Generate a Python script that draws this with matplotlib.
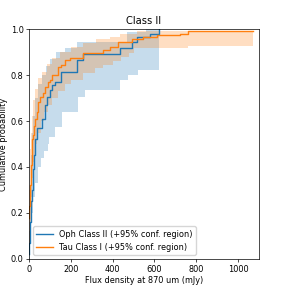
import numpy as np
import matplotlib.pyplot as plt

# Oph Class II - cumulative curve (step, where='post')
oph_x = [0, 2, 4, 6, 8, 11, 14, 17, 20, 24, 29, 37, 61, 77, 85, 100, 109, 124, 152, 231, 260, 435, 491, 515, 579, 622]
oph_y = [0.02, 0.07, 0.11, 0.16, 0.20, 0.25, 0.30, 0.34, 0.39, 0.45, 0.52, 0.57, 0.61, 0.67, 0.706, 0.735, 0.757, 0.771, 0.815, 0.865, 0.89, 0.919, 0.945, 0.964, 0.977, 1.0]
oph_lo_x = [0, 5, 10, 20, 30, 42, 55, 70, 91, 97, 124, 156, 236, 268, 435, 475, 523, 622]
oph_lo_y = [0.0, 0.10, 0.20, 0.27, 0.33, 0.40, 0.44, 0.47, 0.50, 0.53, 0.575, 0.64, 0.706, 0.735, 0.78, 0.80, 0.823, 0.823]
oph_hi_x = [0, 5, 10, 15, 20, 30, 45, 60, 80, 100, 130, 170, 228, 400, 470, 560, 622]
oph_hi_y = [0.12, 0.30, 0.45, 0.55, 0.62, 0.70, 0.76, 0.80, 0.84, 0.87, 0.90, 0.917, 0.945, 0.945, 0.985, 1.0, 1.0]

# Tau Class I - cumulative curve
tau_x = [0, 2, 4, 6, 8, 10, 12, 14, 16, 21, 25, 30, 37, 42, 53, 65, 77, 91, 100, 109, 140, 153, 172, 196, 260, 356, 388, 427, 491, 547, 611, 722, 762, 1073]
tau_y = [0.18, 0.23, 0.28, 0.32, 0.37, 0.41, 0.45, 0.49, 0.52, 0.54, 0.58, 0.61, 0.64, 0.684, 0.706, 0.72, 0.749, 0.77, 0.778, 0.80, 0.836, 0.843, 0.865, 0.873, 0.894, 0.909, 0.923, 0.945, 0.955, 0.967, 0.974, 0.98, 0.993, 0.993]
tau_lo_x = [0, 5, 10, 15, 20, 30, 40, 55, 70, 90, 110, 140, 170, 200, 260, 316, 354, 400, 440, 480, 500, 762, 1073]
tau_lo_y = [0.03, 0.15, 0.27, 0.35, 0.42, 0.50, 0.55, 0.60, 0.64, 0.67, 0.70, 0.73, 0.76, 0.78, 0.81, 0.83, 0.845, 0.86, 0.88, 0.895, 0.917, 0.925, 0.925]
tau_hi_x = [0, 3, 6, 10, 15, 21, 30, 45, 61, 85, 109, 148, 200, 260, 320, 388, 435, 515, 1073]
tau_hi_y = [0.30, 0.40, 0.48, 0.55, 0.62, 0.69, 0.74, 0.785, 0.815, 0.85, 0.873, 0.90, 0.92, 0.938, 0.955, 0.967, 0.98, 0.99, 0.99]


def stepval(xs, ys, grid):
    # value of a post-step curve at each grid point
    idx = np.searchsorted(xs, grid, side='right') - 1
    return np.asarray(ys)[np.clip(idx, 0, len(ys) - 1)]


def band(ax, lo_x, lo_y, hi_x, hi_y, color):
    g = np.union1d(lo_x, hi_x)
    g = g[g <= max(max(lo_x), max(hi_x))]
    ax.fill_between(g, stepval(lo_x, lo_y, g), stepval(hi_x, hi_y, g),
                    step='post', color=color, alpha=0.25, lw=0)


plt.rcParams['font.size'] = 5.9
plt.rcParams['axes.linewidth'] = 0.5
plt.rcParams['xtick.major.width'] = 0.5
plt.rcParams['ytick.major.width'] = 0.5
plt.rcParams['xtick.major.size'] = 2
plt.rcParams['ytick.major.size'] = 2
plt.rcParams['xtick.major.pad'] = 2
plt.rcParams['ytick.major.pad'] = 2

fig = plt.figure(figsize=(2.88, 2.88), dpi=100)
ax = fig.add_axes([0.1007, 0.1007, 0.7986, 0.7986])

band(ax, oph_lo_x, oph_lo_y, oph_hi_x, oph_hi_y, 'C0')
band(ax, tau_lo_x, tau_lo_y, tau_hi_x, tau_hi_y, 'C1')
ax.step(oph_x, oph_y, where='post', color='C0', lw=1.0, label='Oph Class II (+95% conf. region)')
ax.step(tau_x, tau_y, where='post', color='C1', lw=1.0, label='Tau Class I (+95% conf. region)')

ax.set_xlim(0, 1100)
ax.set_ylim(0, 1)
ax.set_title('Class II', fontsize=7.1, pad=3.5)
ax.set_xlabel('Flux density at 870 um (mJy)', labelpad=2)
ax.set_ylabel('Cumulative probability', labelpad=2)
ax.legend(loc='lower left')

fig.savefig('out.png', dpi=100)
